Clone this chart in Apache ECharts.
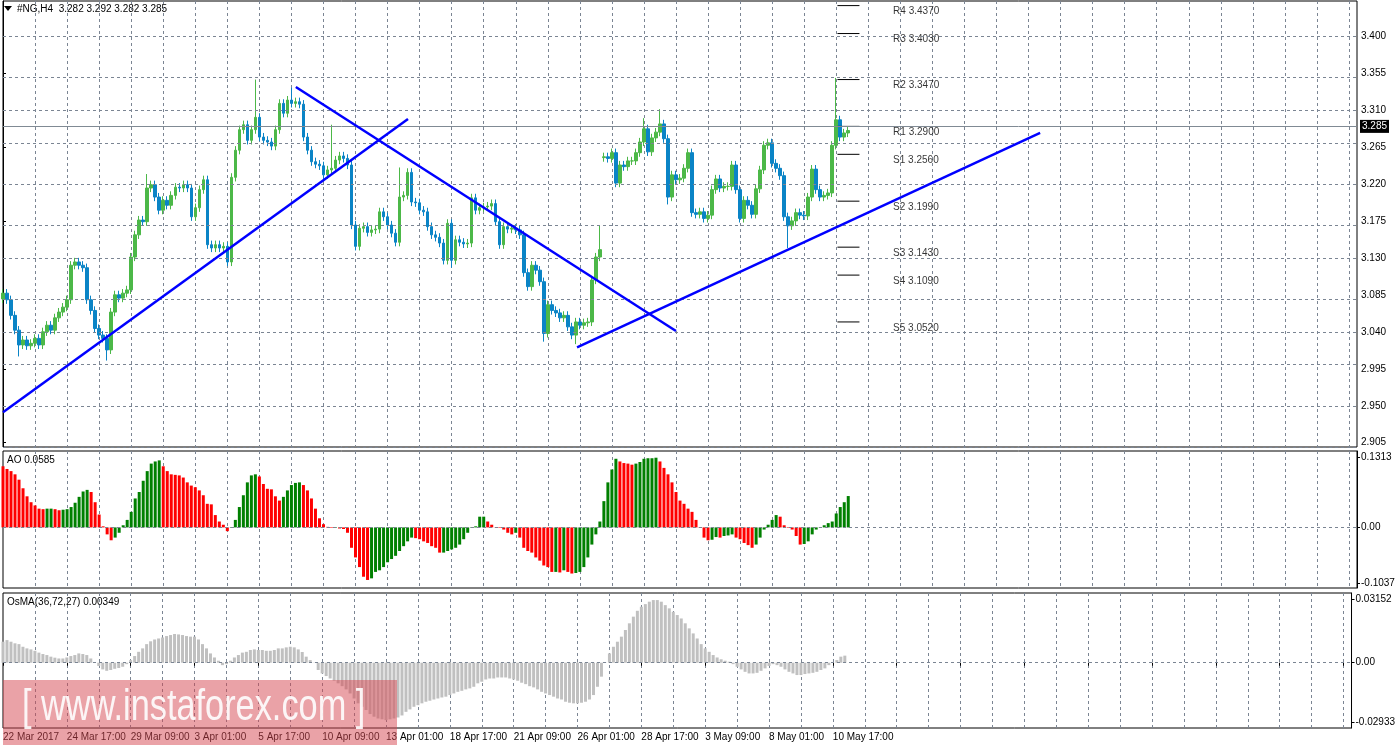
<!DOCTYPE html>
<html><head><meta charset="utf-8">
<script src="https://cdn.jsdelivr.net/npm/echarts@6/dist/echarts.min.js"></script>
<style>html,body{margin:0;padding:0;background:#fff}#c{width:1398px;height:749px}</style>
</head><body><div id="c"></div>
<script>
// ---- data ----
const tickLabels = ['22 Mar 2017','24 Mar 17:00','29 Mar 09:00','3 Apr 01:00','5 Apr 17:00','10 Apr 09:00','13 Apr 01:00','18 Apr 17:00','21 Apr 09:00','26 Apr 01:00','28 Apr 17:00','3 May 09:00','8 May 01:00','10 May 17:00'];
const closes = [3.087,3.079,3.060,3.042,3.024,3.030,3.023,3.026,3.032,3.024,3.040,3.048,3.042,3.057,3.064,3.070,3.079,3.121,3.125,3.121,
3.118,3.079,3.066,3.044,3.036,3.032,3.018,3.064,3.085,3.081,3.087,3.091,3.131,3.158,3.176,3.174,3.215,3.219,3.204,3.188,
3.200,3.194,3.206,3.216,3.215,3.219,3.215,3.180,3.191,3.213,3.225,3.146,3.142,3.146,3.142,3.144,3.125,3.228,3.261,3.286,
3.292,3.273,3.286,3.301,3.277,3.273,3.271,3.266,3.286,3.318,3.306,3.322,3.318,3.320,3.317,3.277,3.261,3.247,3.244,3.242,
3.231,3.237,3.239,3.249,3.254,3.251,3.243,3.170,3.144,3.166,3.168,3.161,3.164,3.165,3.186,3.180,3.170,3.160,3.149,3.204,
3.206,3.234,3.198,3.197,3.188,3.186,3.168,3.158,3.155,3.148,3.127,3.172,3.127,3.152,3.149,3.147,3.148,3.203,3.188,3.191,
3.192,3.193,3.196,3.174,3.146,3.168,3.165,3.166,3.164,3.158,3.112,3.095,3.121,3.115,3.101,3.038,3.073,3.066,3.063,3.057,
3.060,3.046,3.036,3.052,3.048,3.051,3.052,3.103,3.131,3.140,3.253,3.251,3.258,3.221,3.243,3.241,3.248,3.248,3.258,3.271,
3.287,3.259,3.276,3.283,3.293,3.275,3.204,3.231,3.225,3.227,3.239,3.258,3.185,3.183,3.186,3.178,3.182,3.213,3.226,3.215,
3.217,3.217,3.243,3.213,3.178,3.200,3.194,3.183,3.214,3.237,3.267,3.270,3.245,3.239,3.230,3.180,3.169,3.175,3.185,3.182,
3.181,3.204,3.238,3.213,3.204,3.206,3.209,3.267,3.298,3.277,3.282,3.285];
const openOverrides = {0:3.080, 150:3.252};
const highOverrides = {36:3.232,63:3.347,72:3.337,82:3.292,99:3.240,149:3.170,160:3.300,164:3.311,208:3.349};
const lowOverrides = {4:3.010,26:3.005,57:3.120,112:3.118,135:3.028,143:3.025,166:3.195,196:3.142};
const wick = 0.005;
const aoValues = [114,109,105,99,89,73,58,47,41,35,34,35,35,34,32,33,34,38,46,57,67,70,66,47,24,2,-13,-24,-19,-10,4,14,29,54,66,87,105,119,123,125,114,105,99,98,97,93,84,78,75,69,60,44,43,23,11,5,-7,-1,14,38,60,84,97,99,95,81,72,71,58,50,57,69,79,83,84,79,69,54,35,17,6,1,-1,-1,-2,-3,
-10,-38,-56,-74,-92,-98,-95,-83,-80,-74,-65,-59,-53,-44,-35,-26,-19,-20,-22,-26,-29,-35,-38,-47,-47,-44,-41,-38,-32,-22,-10,-1,2,20,20,11,5,-0.5,-1,-4,-10,-13,-10,-19,-38,-44,-47,-56,-62,-71,-74,-83,-83,-84,-80,-83,-86,-85,-83,-74,-56,-32,-13,11,49,84,108,128,123,120,119,117,119,122,128,129,129,130,123,111,99,84,66,50,44,35,29,14,-1,-19,-24,-23,-18,-19,-16,-15,-13,-19,-22,-29,-33,-38,-32,-19,-4,5,14,23,20,4,-1,-4,-16,-32,-31,-26,-13,-4,-1,4,8,11,26,38,47,58.5]; // x 0.001
const osmaValues = [104,112,104,96,92,79,71,66,59,50,43,38,30,25,21,21,26,33,38,46,43,38,21,-1,-16,-33,-40,-36,-30,-26,-20,-7,13,33,54,71,92,106,115,120,125,132,137,142,140,137,132,129,129,115,92,71,46,26,10,-12,-7,10,26,38,50,54,63,66,63,63,59,59,63,71,71,76,79,76,66,53,30,13,-1,-36,-53,-66,-78,-89,-102,-116,-132,-152,-177,-201,-218,-234,-254,-267,-276,-280,-284,-280,-276,-271,-261,-243,-231,-218,-210,-201,-193,-188,-182,-177,-172,-168,-160,-152,-144,-139,-132,-127,-119,-102,-94,-83,-78,-78,-73,-73,-73,-78,-83,-89,-99,-106,-116,-122,-132,-144,-152,-160,-168,-177,-182,-193,-198,-201,-201,-198,-193,-182,-160,-119,-69,-1,46,79,104,129,162,195,228,257,277,290,302,310,310,302,285,269,252,236,219,195,170,145,120,92,71,54,38,26,17,10,5,-7,-20,-33,-45,-53,-53,-50,-40,-28,-16,-7,-12,-20,-33,-45,-53,-61,-61,-56,-53,-50,-45,-36,-28,-12,-1,13,30,35]; // x 0.0001
const priceTicks = [3.400,3.355,3.310,3.265,3.220,3.175,3.130,3.085,3.040,2.995,2.950,2.905];
const aoTicks = [0.1313,0,-0.1037];
const osmaTicks = [0.03152,0,-0.02933];
const pivots = [['R4',3.437],['R3',3.403],['R2',3.347],['R1',3.290],['S1',3.256],['S2',3.199],['S3',3.143],['S4',3.109],['S5',3.052]];
const trendLines = [[[0,2.942],[101.1,3.299]],[[73.1,3.338],[168,3.041]],[[143.3,3.021],[258.9,3.282]]];
const lastPrice = 3.285;
const title = '#NG,H4  3.282 3.292 3.282 3.285';
const aoTitle = 'AO 0.0585';
const osmaTitle = 'OsMA(36,72,27) 0.00349';
const nSlots = 339;

// ---- build ----
const cats = [];
for (let i = 0; i < nSlots; i++) cats.push('');
tickLabels.forEach((t, k) => { cats[k * 16] = t; });
const candles = closes.map((c, i) => {
  const o = openOverrides[i] !== undefined ? openOverrides[i] : closes[i - 1];
  const hi = highOverrides[i] !== undefined ? highOverrides[i] : Math.max(o, c) + wick;
  const lo = lowOverrides[i] !== undefined ? lowOverrides[i] : Math.min(o, c) - wick;
  return [o, c, lo, hi];
});
const ao = aoValues.map((v, i) => ({
  value: v / 1000,
  itemStyle: {color: (i > 0 && v >= aoValues[i - 1]) ? '#008000' : '#ff0000'}
}));
const osma = osmaValues.map(v => v / 10000);

const F = 'Liberation Sans';
const gridC = '#7b8593';
const dash = [3, 3];
const catAxis = (gi, showLabel) => ({
  type: 'category', gridIndex: gi, data: cats, boundaryGap: false,
  axisLine: {show: false}, axisTick: {show: showLabel, interval: 15, length: 3, lineStyle: {color: '#000'}},
  axisLabel: {show: showLabel, interval: (i) => i % 16 === 0, align: 'left', color: '#000', fontFamily: F, fontSize: 10, margin: 4},
  splitLine: {show: true, interval: (i) => i % 8 === 0 && i > 0, lineStyle: {color: gridC, type: dash}}
});
const valAxis = (gi, min, max, ticks, dec) => ({
  type: 'value', gridIndex: gi, position: 'right', min, max, scale: true,
  axisLine: {show: true, lineStyle: {color: '#000'}},
  axisTick: {show: true, length: 3, customValues: ticks, lineStyle: {color: '#000'}},
  axisLabel: {customValues: ticks, color: '#000', fontFamily: F, fontSize: 10, margin: 4,
    formatter: (v) => v === 0 ? '0.00' : v.toFixed(dec)},
  splitLine: {show: false}
});
const hLines = (vals) => ({silent: true, symbol: 'none', label: {show: false},
  lineStyle: {color: gridC, type: dash, width: 1}, data: vals.map(v => ({yAxis: v}))});

const series = [
  {type: 'candlestick', xAxisIndex: 0, yAxisIndex: 0, data: candles, barWidth: 3,
    itemStyle: {color: '#4cb848', color0: '#0a84c6', borderColor: '#4cb848', borderColor0: '#0a84c6', borderWidth: 1},
    markLine: {silent: true, symbol: 'none', animation: false,
      data: priceTicks.map(v => ({yAxis: v, lineStyle: {color: gridC, type: dash, width: 1}, label: {show: false}}))
        .concat([{yAxis: lastPrice, lineStyle: {color: '#808a94', type: 'solid', width: 1},
          label: {show: true, position: 'end', formatter: lastPrice.toFixed(3), backgroundColor: '#000', color: '#fff',
            fontFamily: F, fontSize: 10, padding: [2, 2, 1, 2], distance: 3}}])}},
  {type: 'bar', xAxisIndex: 1, yAxisIndex: 1, data: ao, barWidth: 3, markLine: hLines([0])},
  {type: 'bar', xAxisIndex: 2, yAxisIndex: 2, data: osma, barWidth: 3, itemStyle: {color: '#c0c0c0'}, markLine: hLines([0])}
];
trendLines.forEach(l => series.push({type: 'line', xAxisIndex: 3, yAxisIndex: 0, data: l, symbol: 'none',
  lineStyle: {color: '#0000ff', width: 2.5}, silent: true, z: 5}));
pivots.forEach(p => {
  series.push({type: 'line', xAxisIndex: 3, yAxisIndex: 0, data: [[208.3, p[1]], [213.8, p[1]]], symbol: 'none',
    lineStyle: {color: '#000', width: 1}, silent: true});
  series.push({type: 'scatter', xAxisIndex: 3, yAxisIndex: 0, symbolSize: 0, silent: true,
    data: [{value: [222.2, p[1]], name: p[0] + ' ' + p[1].toFixed(4)}],
    label: {show: true, position: 'right', distance: 0, offset: [0, 6], formatter: '{b}', color: '#000', fontFamily: F, fontSize: 10}});
});

const option = {
  animation: false,
  grid: [
    {left: 3, right: 41, top: 1, height: 446, show: true, borderColor: '#000', borderWidth: 1, backgroundColor: 'transparent'},
    {left: 3, right: 41, top: 451, height: 137, show: true, borderColor: '#000', borderWidth: 1},
    {left: 3, right: 41, top: 593, height: 135, show: true, borderColor: '#000', borderWidth: 1}
  ],
  xAxis: [catAxis(0, false), catAxis(1, false), catAxis(2, true),
    {type: 'value', gridIndex: 0, min: 0, max: nSlots - 1, show: false}],
  yAxis: [valAxis(0, 2.8998, 3.4426, priceTicks, 3), valAxis(1, -0.1130, 0.1425, aoTicks, 4), valAxis(2, -0.0323, 0.0345, osmaTicks, 5)],
  series,
  graphic: [
    {type: 'polygon', shape: {points: [[4, 6], [12, 6], [8, 11]]}, style: {fill: '#000'}},
    {type: 'text', left: 17, top: 4, style: {text: title, font: '10px ' + F, fill: '#000'}},
    {type: 'text', left: 7, top: 455, style: {text: aoTitle, font: '10px ' + F, fill: '#000'}},
    {type: 'text', left: 7, top: 597, style: {text: osmaTitle, font: '10px ' + F, fill: '#000'}},
    {type: 'rect', shape: {x: 3, y: 680, width: 394, height: 65}, style: {fill: 'rgba(214,70,80,0.5)'}, z: 100},
    {type: 'text', x: 22, y: 686, scaleX: 0.78, z: 101, style: {text: '[ www.instaforex.com ]', font: '44px ' + F, fill: 'rgba(255,255,255,0.9)'}}
  ]
};
echarts.init(document.getElementById('c')).setOption(option);
</script></body></html>
